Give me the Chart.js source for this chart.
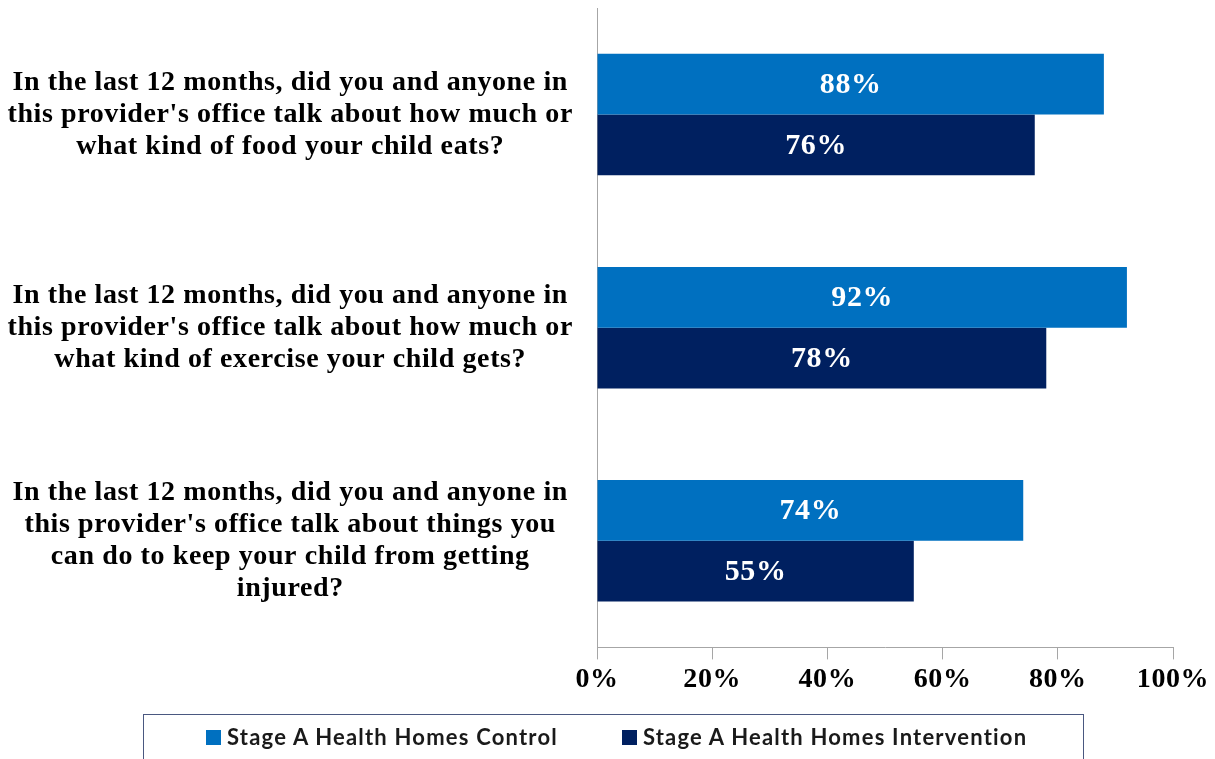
<!DOCTYPE html>
<html>
<head>
<meta charset="utf-8">
<script src="https://cdn.jsdelivr.net/npm/chart.js@4/dist/chart.umd.min.js"></script>
<style>
  html, body { margin: 0; padding: 0; background: #ffffff; }
  #wrap { position: relative; width: 1215px; height: 759px; overflow: hidden; }
  #chart { position: absolute; left: 0; top: 0; }
  #legend {
    position: absolute; left: 143px; top: 714px; width: 941px; height: 70px;
    box-sizing: border-box; border: 1.5px solid #4a5880;
    display: flex; align-items: flex-start; padding: 10px 0 0 62px; gap: 0;
    font-family: Lato, "Noto Sans", sans-serif; font-weight: 700; font-size: 22px;
    letter-spacing: 1.2px; color: #1a1a1a; line-height: 24px;
  }
  .item { display: flex; align-items: center; white-space: nowrap; }
  .item + .item { margin-left: 64px; }
  .swatch { width: 15px; height: 15px; margin-right: 6px; }
</style>
</head>
<body>
<div id="wrap">
  <canvas id="chart" width="1215" height="759"></canvas>
  <div id="legend"></div>
</div>
<script>
// Survey questions (multi-line category labels)
const questions = [
  ["In the last 12 months, did you and anyone in", "this provider's office talk about how much or", "what kind of food your child eats?"],
  ["In the last 12 months, did you and anyone in", "this provider's office talk about how much or", "what kind of exercise your child gets?"],
  ["In the last 12 months, did you and anyone in", "this provider's office talk about things you", "can do to keep your child from getting", "injured?"]
];
const seriesNames = ["Stage A Health Homes Control", "Stage A Health Homes Intervention"];
const controlValues = [88, 92, 74];
const interventionValues = [76, 78, 55];
const axisTicks = [0, 20, 40, 60, 80, 100];
const seriesColors = ["#0070C0", "#002060"];

const serif = "'Liberation Serif', 'Times New Roman', serif";

// Slightly open letter spacing for all canvas text
const textSpacing = {
  id: 'textSpacing',
  beforeUpdate(chart) { chart.ctx.letterSpacing = '0.6px'; },
  beforeDraw(chart) { chart.ctx.letterSpacing = '0.6px'; }
};

// White percentage labels centred inside each bar
const barValueLabels = {
  id: 'barValueLabels',
  afterDatasetsDraw(chart) {
    const ctx = chart.ctx;
    ctx.save();
    ctx.fillStyle = '#ffffff';
    ctx.font = "bold 30px " + serif;
    ctx.textAlign = 'center';
    ctx.textBaseline = 'middle';
    chart.data.datasets.forEach((ds, di) => {
      chart.getDatasetMeta(di).data.forEach((bar, i) => {
        const cx = (bar.x + bar.base) / 2;
        ctx.fillText(ds.data[i] + '%', cx, bar.y + 1);
      });
    });
    ctx.restore();
  }
};

const chart = new Chart(document.getElementById('chart'), {
  type: 'bar',
  data: {
    labels: questions,
    datasets: [
      { label: seriesNames[0], data: controlValues, backgroundColor: seriesColors[0] },
      { label: seriesNames[1], data: interventionValues, backgroundColor: seriesColors[1] }
    ]
  },
  options: {
    indexAxis: 'y',
    responsive: false,
    animation: false,
    layout: { padding: { top: 8, right: 42, bottom: 58, left: 0 } },
    datasets: { bar: { categoryPercentage: 0.57, barPercentage: 1.0 } },
    plugins: { legend: { display: false }, tooltip: { enabled: false } },
    scales: {
      x: {
        min: axisTicks[0],
        max: axisTicks[axisTicks.length - 1],
        afterBuildTicks(scale) { scale.ticks = axisTicks.map(v => ({ value: v })); },
        grid: { drawOnChartArea: false, drawTicks: true, tickLength: 12, color: '#a6a6a6' },
        border: { display: true, color: '#a6a6a6', width: 1 },
        ticks: {
          padding: 4,
          color: '#000000',
          font: { family: serif, size: 28, weight: 'bold' },
          callback: v => v + '%'
        }
      },
      y: {
        afterFit(scale) {
          scale.width = 597;
          scale.paddingTop = 0;
          scale.paddingBottom = 0;
        },
        grid: { display: false, drawTicks: false },
        border: { display: true, color: '#a6a6a6', width: 1 },
        ticks: {
          crossAlign: 'center',
          padding: 24,
          color: '#000000',
          font: { family: serif, size: 28, weight: 'bold', lineHeight: 1.15 }
        }
      }
    }
  },
  plugins: [textSpacing, barValueLabels]
});

// Boxed legend below the chart, built from the chart's datasets
const legendEl = document.getElementById('legend');
chart.data.datasets.forEach(ds => {
  const item = document.createElement('div');
  item.className = 'item';
  const sw = document.createElement('span');
  sw.className = 'swatch';
  sw.style.background = ds.backgroundColor;
  const txt = document.createElement('span');
  txt.textContent = ds.label;
  item.appendChild(sw);
  item.appendChild(txt);
  legendEl.appendChild(item);
});
</script>
</body>
</html>
